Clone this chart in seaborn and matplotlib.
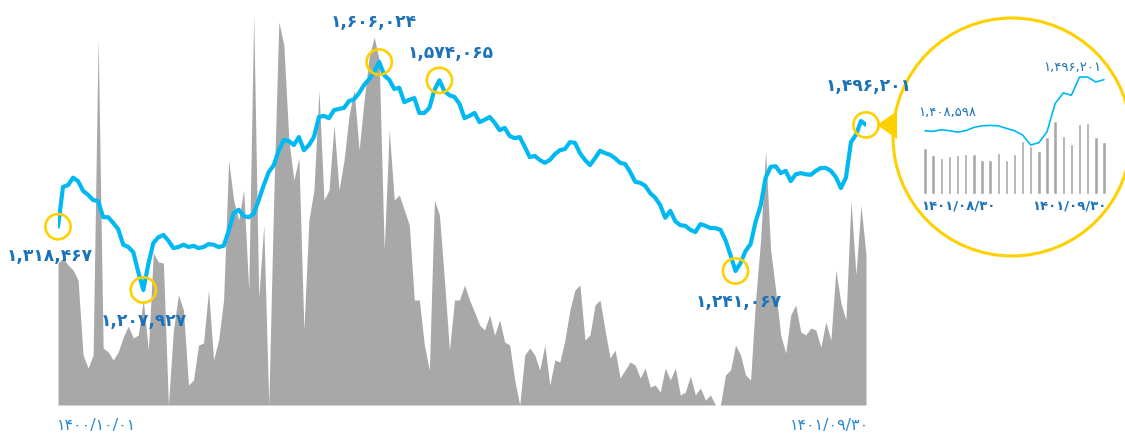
import numpy as np
import matplotlib
matplotlib.use("Agg")
import matplotlib.pyplot as plt
from matplotlib.patches import Circle, Polygon
import seaborn as sns

# ---- data -------------------------------------------------------------
# Total index (thousand points), one value per session, 1400/10/01 .. 1401/09/30
index_k = [
    1318.467, 1388, 1391, 1404, 1398, 1381, 1374, 1365, 1363, 1335,
    1335, 1325, 1314, 1287, 1283, 1274, 1239, 1207.927, 1253, 1290,
    1300, 1304, 1294, 1281, 1283, 1287, 1283, 1285, 1281, 1283,
    1288, 1287, 1283, 1285, 1311, 1342, 1348, 1337, 1335, 1341,
    1365, 1391, 1414, 1426, 1452, 1470, 1468, 1461, 1475, 1452,
    1461, 1475, 1510, 1512, 1508, 1522, 1524, 1526, 1538, 1541,
    1552, 1566, 1576, 1589, 1606.024, 1583, 1575, 1559, 1561, 1536,
    1540, 1543, 1517, 1517, 1526, 1557, 1574.065, 1555, 1548, 1545,
    1533, 1508, 1512, 1517, 1501, 1505, 1510, 1500, 1487, 1491,
    1477, 1473, 1475, 1458, 1440, 1442, 1435, 1430, 1435, 1445,
    1452, 1454, 1466, 1465, 1447, 1435, 1426, 1438, 1451, 1447,
    1444, 1438, 1430, 1428, 1414, 1397, 1395, 1390, 1377, 1369,
    1356, 1334, 1346, 1328, 1321, 1320, 1313, 1309, 1323, 1320,
    1316, 1316, 1313, 1295, 1269, 1241.067, 1255, 1276, 1288, 1327,
    1355, 1404, 1423, 1424, 1412, 1416, 1398, 1410, 1412, 1410,
    1409, 1416, 1421, 1421, 1416, 1405, 1386, 1404, 1466, 1479,
    1503, 1496.201,
]

# Traded value per session (relative units)
volume = [
    142, 147, 140, 135, 125, 50, 37, 50, 367, 57,
    53, 45, 53, 68, 79, 67, 70, 105, 55, 152,
    143, 142, 0, 75, 110, 95, 20, 25, 60, 62,
    115, 45, 65, 105, 245, 205, 185, 215, 115, 390,
    107, 180, 0, 210, 383, 360, 265, 225, 247, 75,
    185, 215, 315, 205, 215, 280, 215, 245, 290, 315,
    255, 305, 348, 368, 345, 155, 275, 205, 210, 195,
    180, 105, 105, 60, 35, 205, 190, 125, 55, 105,
    105, 120, 105, 93, 80, 75, 90, 70, 85, 63,
    60, 25, 0, 50, 57, 50, 35, 60, 20, 45,
    43, 65, 95, 115, 120, 65, 70, 100, 105, 75,
    47, 55, 27, 35, 43, 40, 27, 37, 18, 20,
    13, 37, 25, 37, 10, 13, 29, 10, 17, 5,
    10, 0, 0, 30, 35, 60, 50, 30, 25, 105,
    165, 255, 155, 115, 70, 52, 90, 100, 73, 70,
    77, 75, 58, 83, 65, 135, 102, 85, 205, 130,
    200, 150,
]

start_label = "1400/10/01"
end_label = "1401/09/30"

# Sessions highlighted with a ring and their value
marked = [0, 17, 64, 76, 135, 161]

# Last month zoom (1401/08/30 .. 1401/09/30)
month_index_k = [
    1408.598, 1407.5, 1410.3, 1408.6, 1406.3, 1408.6, 1414.3, 1417.1,
    1417.7, 1417.1, 1412.6, 1408.6, 1401.2, 1384.1, 1388.1, 1406.9,
    1455.3, 1473.5, 1469.5, 1500.8, 1500.8, 1492.2, 1496.201,
]
month_volume = [
    46, 39, 36, 38, 39, 40, 40, 34, 34, 41, 34, 40,
    53, 48, 43, 57, 73, 58, 50, 70, 71, 57, 52,
]
month_start_label = "1401/08/30"
month_end_label = "1401/09/30"

# ---- helpers ----------------------------------------------------------
FA = str.maketrans("0123456789", "۰۱۲۳۴۵۶۷۸۹")


def fa(s):
    return s.translate(FA)


def fa_num(v_k):
    return fa(f"{round(v_k * 1000):,}")


LINE_BLUE = "#00B9F2"
LABEL_BLUE = "#1C72B8"
DATE_BLUE = "#2A8BD3"
GREY = "#A8A8A8"
YELLOW = "#FFD000"

sns.set_theme(style="white")
plt.rcParams["font.family"] = ["DejaVu Sans"]

W, H = 1125, 434
fig = plt.figure(figsize=(W / 100, H / 100), dpi=100)
fig.patch.set_facecolor("white")


def frac(x0, y0, x1, y1):
    """pixel box (top-left origin) -> figure fraction rect"""
    return [x0 / W, 1 - y1 / H, (x1 - x0) / W, (y1 - y0) / H]


# ---- magnifier frame (drawn underneath everything) ---------------------
over = fig.add_axes([0, 0, 1, 1], zorder=0)
over.set_xlim(0, W)
over.set_ylim(H, 0)
over.axis("off")
over.add_patch(Circle((1012, 137), 119, facecolor="white",
                      edgecolor=YELLOW, lw=2.2))
over.add_patch(Polygon([(877, 125), (897, 111), (897, 139)], closed=True,
                       facecolor=YELLOW, edgecolor="none"))

# ---- main chart -------------------------------------------------------
n = len(index_k)
x = np.arange(n)

ax = fig.add_axes(frac(58, 15, 866, 405), zorder=1)
ax.fill_between(x, 0, volume, color=GREY, lw=0, zorder=1)
ax.set_xlim(0, n - 1)
ax.set_ylim(0, 390)
ax.axis("off")

ax2 = ax.twinx()
ax2.set_zorder(2)
sns.lineplot(x=x, y=index_k, ax=ax2, color=LINE_BLUE, lw=3.0, zorder=3)
ax2.set_xlim(0, n - 1)
ax2.set_ylim(1007.1, 1688.1)
ax2.axis("off")

mx = [x[i] for i in marked]
my = [index_k[i] for i in marked]
ax2.scatter(mx, my, s=330, facecolors="none", edgecolors=YELLOW,
            linewidths=1.9, zorder=5, clip_on=False)

offsets = {0: (-6, -21), 17: (0, -22), 64: (-4, 29), 76: (8, 20),
           135: (2, -22), 161: (2, 28)}
for i in marked:
    ax2.annotate(fa_num(index_k[i]), (x[i], index_k[i]),
                 xytext=offsets[i], textcoords="offset points",
                 ha="center", va="center", fontsize=12.3, fontweight="bold",
                 color=LABEL_BLUE, annotation_clip=False, zorder=6)

ax.annotate(fa(start_label), (0, 0), xytext=(-1, -15), textcoords="offset points",
            ha="left", va="center", fontsize=11.5, color=DATE_BLUE,
            annotation_clip=False)
ax.annotate(fa(end_label), (n - 1, 0), xytext=(2, -15), textcoords="offset points",
            ha="right", va="center", fontsize=11.5, color=DATE_BLUE,
            annotation_clip=False)

# ---- last month inset -------------------------------------------------
m = len(month_index_k)
xm = np.arange(m)
axi = fig.add_axes(frac(921, 60, 1108, 194), zorder=3)
sns.barplot(x=xm, y=month_volume, ax=axi, color=GREY, width=0.42,
            saturation=1, native_scale=True)
axi.set_xlim(-0.5, m - 0.5)
axi.set_ylim(0, 134)
axi.axis("off")

axi2 = axi.twinx()
sns.lineplot(x=xm, y=month_index_k, ax=axi2, color=LINE_BLUE, lw=1.2)
axi2.set_xlim(-0.5, m - 0.5)
axi2.set_ylim(1300.0, 1530.0)
axi2.axis("off")

axi2.annotate(fa_num(month_index_k[0]), (0, month_index_k[0]),
              xytext=(16, 13), textcoords="offset points", ha="center",
              va="center", fontsize=9.5, color=LABEL_BLUE,
              annotation_clip=False)
axi2.annotate(fa_num(month_index_k[-1]), (m - 1, month_index_k[-1]),
              xytext=(-23, 9), textcoords="offset points", ha="center",
              va="center", fontsize=9.5, color=LABEL_BLUE,
              annotation_clip=False)
axi.annotate(fa(month_start_label), (0, 0), xytext=(-3, -9),
             textcoords="offset points", ha="left", va="center",
             fontsize=9.5, fontweight="bold", color=LABEL_BLUE,
             annotation_clip=False)
axi.annotate(fa(month_end_label), (m - 1, 0), xytext=(2, -9),
             textcoords="offset points", ha="right", va="center",
             fontsize=9.5, fontweight="bold", color=LABEL_BLUE,
             annotation_clip=False)

fig.savefig("out.png", dpi=100, facecolor="white")
